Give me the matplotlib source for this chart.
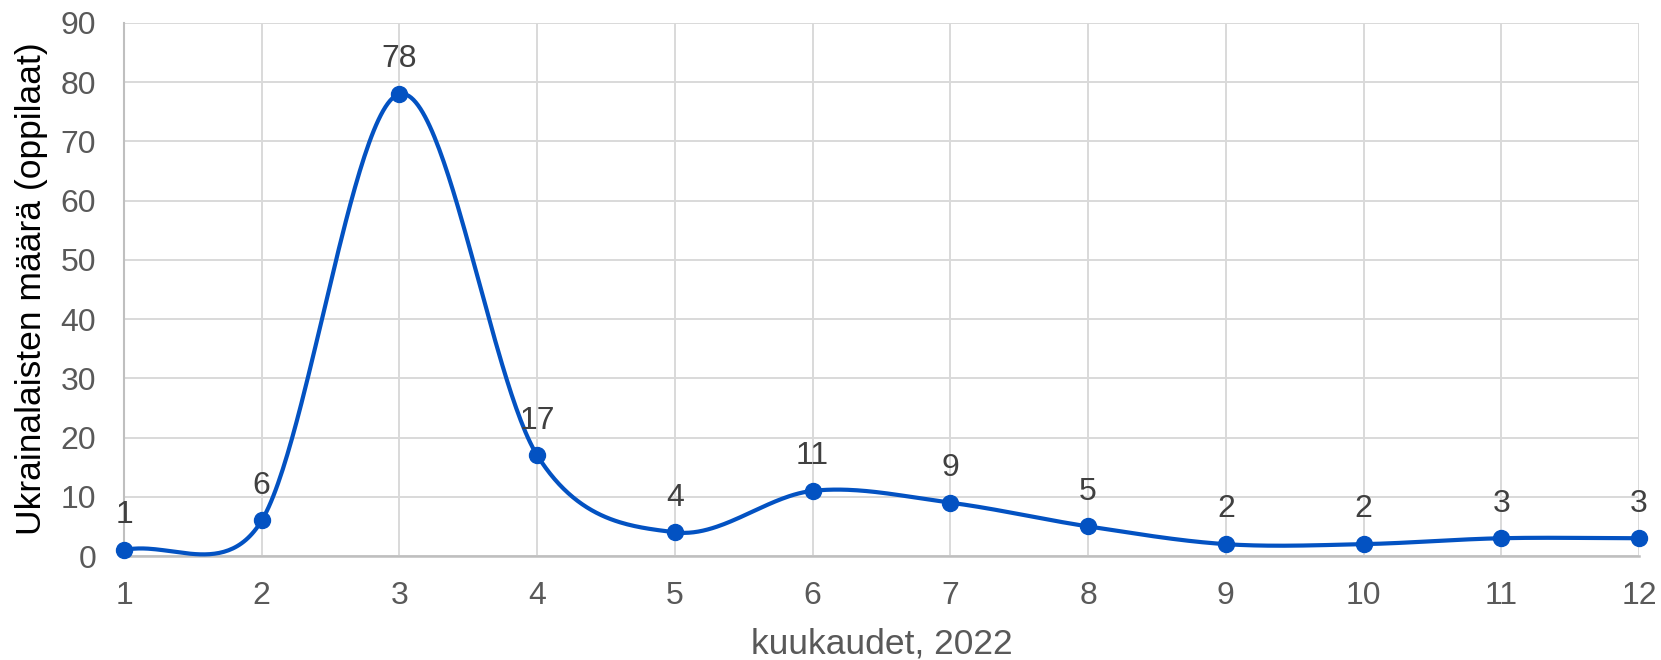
import numpy as np
import matplotlib
matplotlib.use("Agg")
import matplotlib.pyplot as plt

months = [1, 2, 3, 4, 5, 6, 7, 8, 9, 10, 11, 12]
students = [1, 6, 78, 17, 4, 11, 9, 5, 2, 2, 3, 3]
x_label = "kuukaudet, 2022"
y_label = "Ukrainalaisten määrä (oppilaat)"
y_ticks = [0, 10, 20, 30, 40, 50, 60, 70, 80, 90]

plt.rcParams['font.family'] = ['Liberation Sans', 'DejaVu Sans']

W, H = 1661, 660
fig = plt.figure(figsize=(W / 100, H / 100), dpi=100)
ax = fig.add_axes([124 / W, 1 - 556 / H, (1639 - 124) / W, (556 - 23) / H])
ax.set_xlim(1, 12)
ax.set_ylim(0, 90)

line_color = '#0352C2'

# Excel-like smoothed curve computed in display space
pts = ax.transData.transform(np.column_stack([months, students]))
n = len(pts)
curve = []
for i in range(n - 1):
    p0 = pts[i - 1] if i > 0 else pts[i]
    p1 = pts[i]
    p2 = pts[i + 1]
    p3 = pts[i + 2] if i + 2 < n else pts[i + 1]
    d02 = np.linalg.norm(p2 - p0)
    d12 = np.linalg.norm(p2 - p1)
    d13 = np.linalg.norm(p3 - p1)
    f = 1 / 3 if i == 0 else 1 / 6
    g = 1 / 3 if i + 2 >= n else 1 / 6
    if d02 * f > d12 / 2 and d02 > 0:
        f = d12 / (2 * d02)
    if d13 * g > d12 / 2 and d13 > 0:
        g = d12 / (2 * d13)
    c1 = p1 + f * (p2 - p0)
    c2 = p2 - g * (p3 - p1)
    t = np.linspace(0, 1, 60)[:, None]
    seg = ((1 - t) ** 3) * p1 + 3 * ((1 - t) ** 2) * t * c1 + 3 * (1 - t) * t ** 2 * c2 + t ** 3 * p2
    curve.append(seg if i == 0 else seg[1:])
curve = np.vstack(curve)
curve_data = ax.transData.inverted().transform(curve)

ax.plot(curve_data[:, 0], curve_data[:, 1], color=line_color, lw=3.0,
        solid_capstyle='round', clip_on=False, zorder=3)
ax.plot(months, students, 'o', color=line_color, ms=11.5, clip_on=False, zorder=4)

for xv, yv in zip(months, students):
    ax.annotate(str(yv), (xv, yv), xytext=(0, 25), textcoords='offset points',
                ha='center', va='center', fontsize=23, color='#404040', zorder=5)

ax.set_xticks(months)
ax.set_xticklabels([str(m) for m in months])
ax.set_yticks(y_ticks)
ax.set_yticklabels([str(v) for v in y_ticks])
ax.tick_params(axis='both', length=0, labelsize=23, labelcolor='#595959')
ax.tick_params(axis='x', pad=18)
ax.tick_params(axis='y', pad=20)

ax.grid(True, color='#D9D9D9', lw=1.4, zorder=0)
ax.set_axisbelow(True)
for s in ['top', 'right']:
    ax.spines[s].set_visible(False)
ax.spines['left'].set_color('#BFBFBF')
ax.spines['left'].set_linewidth(1.5)
ax.spines['bottom'].set_color('#BFBFBF')
ax.spines['bottom'].set_linewidth(1.8)

fig.text((124 + 1639) / 2 / W, 1 - 653 / H, x_label, ha='center', va='baseline',
         fontsize=25.5, color='#595959')
fig.text(32 / W, 1 - 289 / H, y_label, ha='center', va='center', rotation=90,
         fontsize=25.5, color='black')

fig.savefig('out.png', dpi=100)
